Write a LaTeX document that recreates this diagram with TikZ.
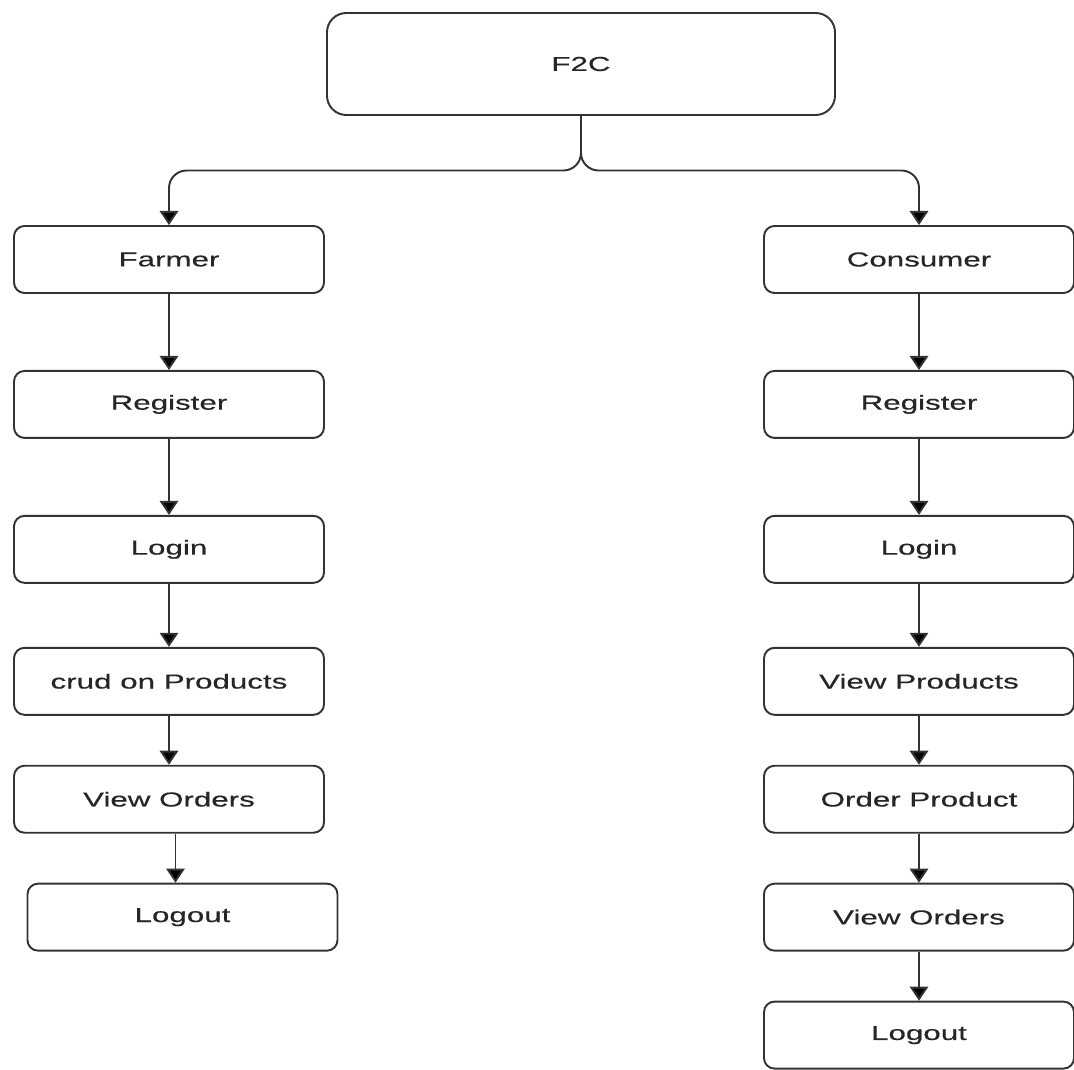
\documentclass[tikz,border=0pt]{standalone}
\usepackage{fontspec}
\setmainfont{Liberation Sans}[FakeStretch=1.55,FakeBold=0.4]
\usetikzlibrary{arrows.meta}
\usetikzlibrary{positioning}

\begin{document}
\begin{tikzpicture}[
        box/.style={rectangle, draw=black!80, line width=1.1pt, rounded corners=6pt,
        minimum width=6.2cm, minimum height=1.34cm, text=black!85,
        font=\fontsize{11.5}{14}\selectfont},
        flow/.style={-{Triangle[width=10.5pt,length=8pt,fill=black]}, draw=black!80, line width=1.1pt}]
        \useasboundingbox (0,0) rectangle (21.48,-21.40);

        \node (f2c) [box, minimum width=10.16cm, minimum height=2.04cm, rounded corners=11pt] at (11.62,-1.28) {F2C};

        % farmer side
        \node (farmer) [box] at (3.38,-5.19) {Farmer};
        \node (lreg) [box, below=1.52cm of farmer] {Register};
        \node (llogin) [box, below=1.52cm of lreg] {Login};
        \node (lcrud) [box, below=1.26cm of llogin] {crud on Products};
        \node (lview) [box, below=0.98cm of lcrud] {View Orders};
        \node (llogout) [box, below=0.98cm of lview, xshift=0.27cm] {Logout};

        % consumer side
        \node (consumer) [box] at (18.38,-5.19) {Consumer};
        \node (rreg) [box, below=1.52cm of consumer] {Register};
        \node (rlogin) [box, below=1.52cm of rreg] {Login};
        \node (rview) [box, below=1.26cm of rlogin] {View Products};
        \node (rorder) [box, below=0.98cm of rview] {Order Product};
        \node (rorders) [box, below=0.98cm of rorder] {View Orders};
        \node (rlogout) [box, below=0.98cm of rorders] {Logout};

        \coordinate (split) at (11.62,-3.41);
        \draw[flow, rounded corners=10pt] (f2c.south) -- (split) -| (farmer.north);
        \draw[flow, rounded corners=10pt] (f2c.south) -- (split) -| (consumer.north);

        \draw[flow] (farmer) -- (lreg);
        \draw[flow] (lreg) -- (llogin);
        \draw[flow] (llogin) -- (lcrud);
        \draw[flow] (lcrud) -- (lview);
        \draw[flow] ([xshift=0.13cm]lview.south) -- ([xshift=-0.14cm]llogout.north);

        \draw[flow] (consumer) -- (rreg);
        \draw[flow] (rreg) -- (rlogin);
        \draw[flow] (rlogin) -- (rview);
        \draw[flow] (rview) -- (rorder);
        \draw[flow] (rorder) -- (rorders);
        \draw[flow] (rorders) -- (rlogout);
    \end{tikzpicture}
\end{document}
